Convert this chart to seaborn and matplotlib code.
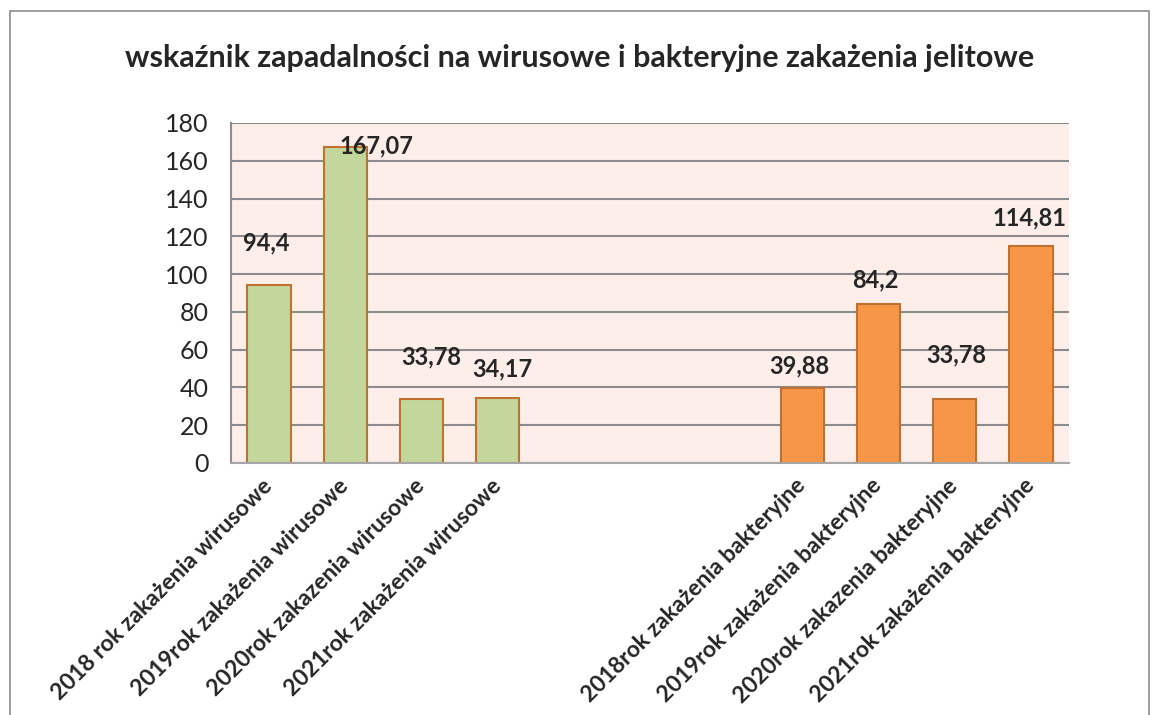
import pandas as pd
import numpy as np
import matplotlib
matplotlib.use("Agg")
import matplotlib.pyplot as plt
import seaborn as sns
from matplotlib.patches import Rectangle

# data
labels = ["2018 rok zakażenia wirusowe", "2019rok zakażenia wirusowe",
          "2020rok zakazenia wirusowe", "2021rok zakażenia wirusowe",
          "", " ", "  ",
          "2018rok zakażenia bakteryjne", "2019rok zakażenia bakteryjne",
          "2020rok zakazenia bakteryjne", "2021rok zakażenia bakteryjne"]
values = [94.4, 167.07, 33.78, 34.17, np.nan, np.nan, np.nan, 39.88, 84.2, 33.78, 114.81]
value_text = ["94,4", "167,07", "33,78", "34,17", "", "", "", "39,88", "84,2", "33,78", "114,81"]
groups = ["wirusowe"] * 4 + ["brak"] * 3 + ["bakteryjne"] * 4

# label offsets in pixels (excel labels were moved by hand)
label_dx = [-3, 31, 10, 5, 0, 0, 0, -3, -3, 2, -1]
label_dy = [44, 4, 44, 32, 0, 0, 0, 24, 26, 46, 30]

df = pd.DataFrame({"label": labels, "value": values, "group": groups})

sns.set_style("white")
plt.rcParams["font.family"] = ["Lato", "DejaVu Sans"]

fig = plt.figure(figsize=(11.59, 7.15), dpi=100)
ax = fig.add_axes([231 / 1159, 1 - 463 / 715, (1069 - 231) / 1159, (463 - 123) / 715])

sns.barplot(data=df, x="label", y="value", hue="group", order=labels,
            palette={"wirusowe": "#C3D69B", "brak": "#FFFFFF", "bakteryjne": "#F79646"},
            dodge=False, width=0.57, edgecolor="#C0712F", linewidth=1.5,
            saturation=1, legend=False, ax=ax)

ax.set_facecolor("#FDEEEA")
ax.set_ylim(0, 180)
ax.set_xlim(-0.5, len(labels) - 0.5)
ax.set_yticks(range(0, 181, 20))
ax.yaxis.grid(True, color="#8C8C8C", linewidth=1.5)
ax.set_axisbelow(True)
for s in ["top", "right"]:
    ax.spines[s].set_visible(False)
ax.spines["left"].set_color("#8C8C8C")
ax.spines["left"].set_linewidth(1.5)
ax.spines["bottom"].set_color("#A6A6A6")
ax.spines["bottom"].set_linewidth(1.5)
ax.set_xlabel("")
ax.set_ylabel("")
ax.tick_params(axis="y", length=0, pad=16, labelsize=18)
ax.tick_params(axis="x", length=0, pad=14)
ax.set_xticks(range(len(labels)))
ax.set_xticklabels(labels, rotation=45, ha="right", va="center",
                   rotation_mode="anchor", fontsize=16.5, fontweight="bold")

# value labels
for i, v in enumerate(values):
    if np.isnan(v):
        continue
    ax.annotate(value_text[i], (i, v), xytext=(label_dx[i], label_dy[i]),
                textcoords="offset pixels", ha="center", va="center_baseline",
                fontsize=17, fontweight="bold", annotation_clip=False)

fig.suptitle("wskaźnik zapadalności na wirusowe i bakteryjne zakażenia jelitowe",
             x=0.5, y=1 - 58 / 715, va="center", fontsize=22, fontweight="bold")

# chart border
fig.patches.append(Rectangle((10 / 1159, -0.1), 1139 / 1159, 1.1 - 11 / 715,
                             transform=fig.transFigure, fill=False,
                             edgecolor="#8C8C8C", linewidth=1.2))

plt.savefig("out.png", dpi=100)
